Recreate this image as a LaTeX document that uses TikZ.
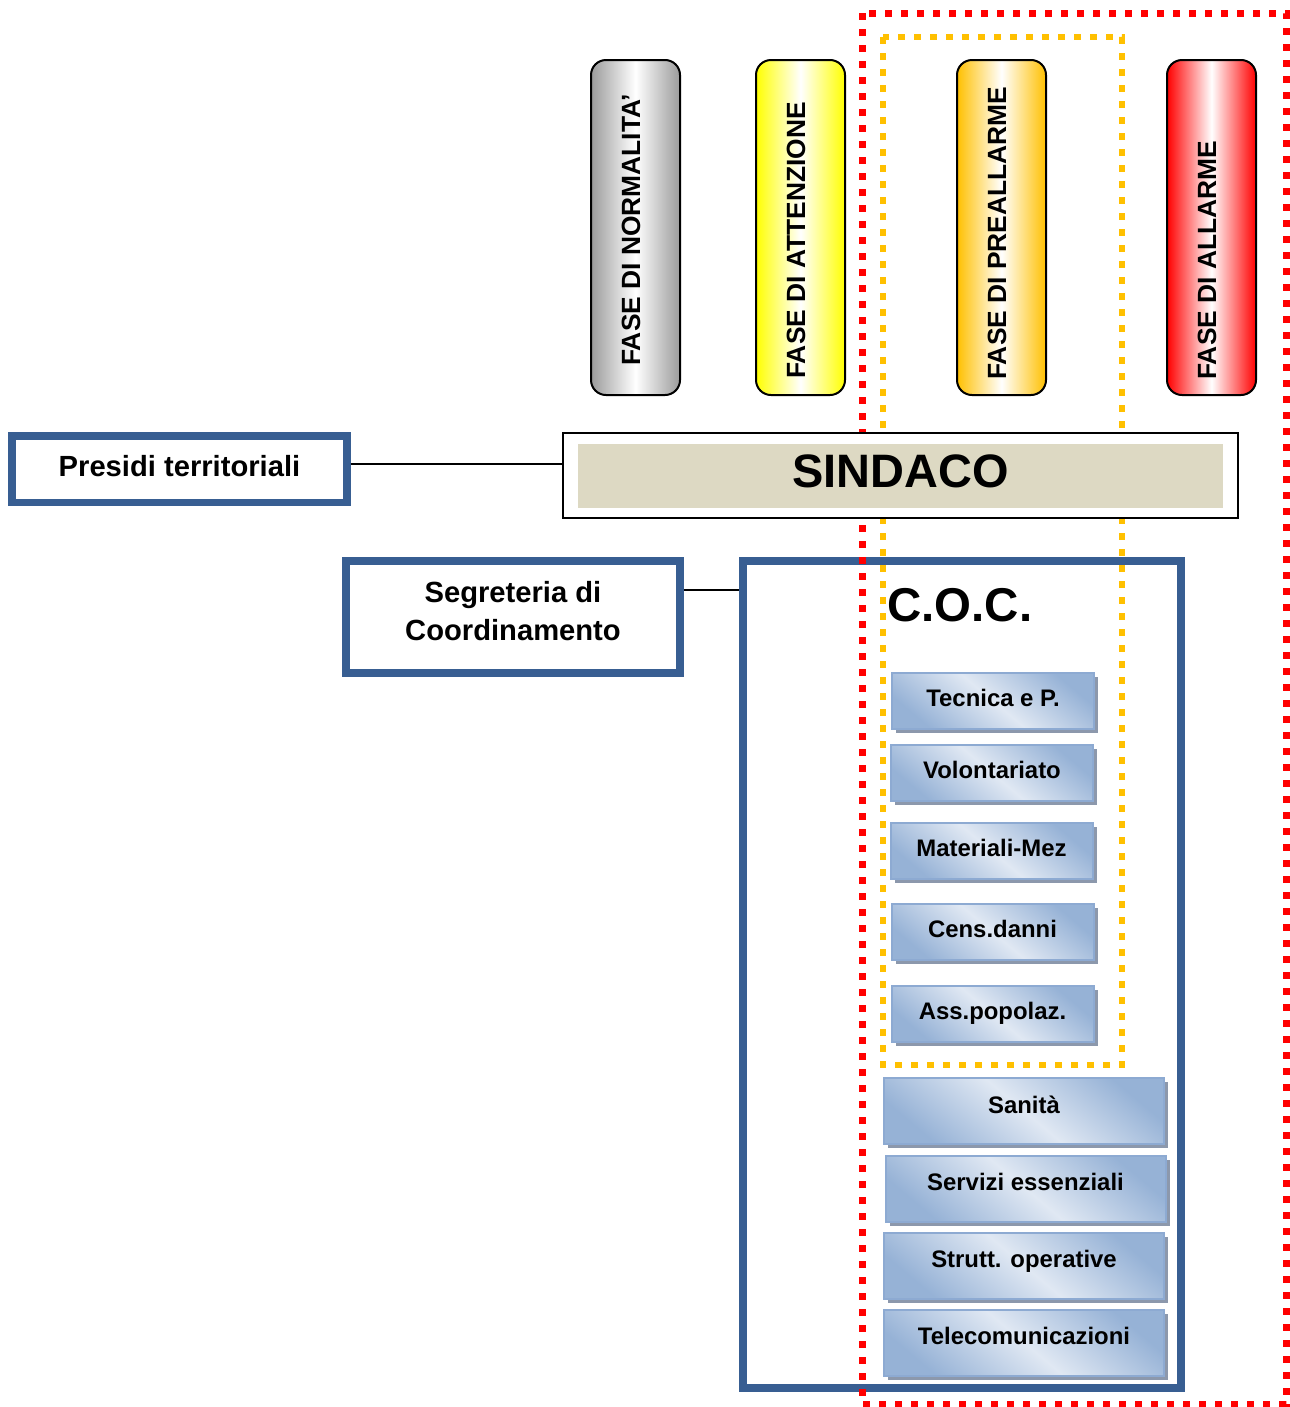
\documentclass[tikz,border=0pt]{standalone}
\usepackage{fontspec}
\setmainfont{Liberation Sans}
\usepackage{tikz}
\usetikzlibrary{calc,positioning,shadows}
\definecolor{bordoblu}{RGB}{56,94,146}
\definecolor{sabbia}{RGB}{221,217,195}
\definecolor{arancio}{RGB}{255,192,0}
\definecolor{grigiofase}{RGB}{155,155,155}
\definecolor{azzchiaro}{RGB}{224,232,243}
\definecolor{azzscuro}{RGB}{150,178,214}
\definecolor{azzbordo}{RGB}{141,170,210}
\definecolor{ombra}{RGB}{140,152,172}
\tikzstyle{fase}    =[rectangle, rounded corners=3mm, draw=black,
                      line width=0.4mm, minimum width=17.8mm,
                      minimum height=67mm, inner sep=0pt]
\tikzstyle{fasetxt} =[rotate=90, anchor=base west, inner sep=0pt,
                      font=\bfseries\fontsize{15}{18}\selectfont]
\tikzstyle{bluebox} =[rectangle, draw=bordoblu, line width=1.5mm,
                      fill=white, align=center,
                      font=\bfseries\fontsize{16.6}{21.6}\selectfont]
\tikzstyle{voce}    =[rectangle, draw=azzbordo, line width=0.4mm,
                      top color=azzscuro, bottom color=azzscuro,
                      middle color=azzchiaro, shading angle=-40,
                      drop shadow={shadow xshift=0.8mm, shadow yshift=-0.8mm,
                                   fill=ombra, opacity=1},
                      font=\bfseries\fontsize{13.6}{16}\selectfont,
                      text height=9.7pt]
\tikzstyle{zona}    =[line width=1.4mm, dash pattern=on 1.4mm off 1.8mm]
\tikzstyle{link}    =[line width=0.3mm, black]
\begin{document}
\begin{tikzpicture}[x=0.2mm, y=-0.2mm]
    \useasboundingbox (0,0) rectangle (1290,1407);
    % C.O.C.
    \node (coc) [bluebox, minimum width=87.6mm, minimum height=165.4mm]
        at (962,974.5) {};
    % fasi attive
    \draw[zona, red] (862,13) rectangle (1286,1404);
    \draw[zona, arancio, line width=1.2mm] (883,37) rectangle (1122,1065);
    % sindaco
    \node (sindaco) [draw=black, line width=0.4mm, fill=white,
        minimum width=135mm, minimum height=17mm] at (900.5,475.5) {};
    \node (sindtxt) [fill=sabbia, minimum width=128.8mm, minimum height=12.8mm,
        font=\bfseries\fontsize{26.7}{32}\selectfont,
        text height=19.1pt, text depth=5.7pt] at (sindaco.center) {SINDACO};
    % fasi
    \node (normalita)  [fase, left color=grigiofase, right color=grigiofase,
        middle color=white] at (635.5,227.5) {};
    \node (attenzione) [fase, left color=yellow, right color=yellow,
        middle color=white] at (800.5,227.5) {};
    \node (preallarme) [fase, left color=arancio, right color=arancio,
        middle color=white] at (1001.5,227.5) {};
    \node (allarme)    [fase, left color=red, right color=red,
        middle color=white] at (1211.5,227.5) {};
    \node (tnormalita)  [fasetxt] at (640,366) {FASE DI NORMALITA’};
    \node (tattenzione) [fasetxt] at (805,379) {FASE DI ATTENZIONE};
    \node (tpreallarme) [fasetxt] at (1006,380) {FASE DI PREALLARME};
    \node (tallarme)    [fasetxt] at (1216,380) {FASE DI ALLARME};
    % presidi e segreteria
    \node (presidi) [bluebox, minimum width=67mm, minimum height=13.3mm,
        text depth=3.4pt] at (179.5,469) {Presidi territoriali};
    \node (segreteria) [bluebox, minimum width=66.8mm, minimum height=22.4mm,
        text depth=6.8pt] at (513,617) {Segreteria di\\Coordinamento};
    \node (coctxt) [anchor=base west, inner sep=0pt,
        font=\bfseries\fontsize{27}{32}\selectfont] at (887,621) {C.O.C.};
    % funzioni
    \node (tecnica)   [voce, minimum width=40.4mm, minimum height=11.2mm,
        text depth=3.4pt] at (993,701) {Tecnica e P.};
    \node (volont)    [voce, minimum width=40.4mm, minimum height=11.2mm,
        text depth=3.4pt] at (992,773) {Volontariato};
    \node (materiali) [voce, minimum width=40.4mm, minimum height=11.2mm,
        text depth=3.4pt] at (991.5,851) {Materiali-Mez};
    \node (cens)      [voce, minimum width=40.4mm, minimum height=11.2mm,
        text depth=3.4pt] at (992.5,932) {Cens.danni};
    \node (ass)       [voce, minimum width=40.4mm, minimum height=11.2mm,
        text depth=3.4pt] at (992.5,1014) {Ass.popolaz.};
    \node (sanita)    [voce, minimum width=56mm, minimum height=13.2mm,
        text depth=7.4pt] at (1024,1111) {Sanità};
    \node (servizi)   [voce, minimum width=56mm, minimum height=13.2mm,
        text depth=7.4pt] at (1025.5,1188.5) {Servizi essenziali};
    \node (strutt)    [voce, minimum width=56mm, minimum height=13.2mm,
        text depth=7.4pt] at (1024,1265.5) {Strutt. operative};
    \node (telecom)   [voce, minimum width=56mm, minimum height=13.2mm,
        text depth=7.4pt] at (1024,1342.5) {Telecomunicazioni};
    % collegamenti
    \draw[link] ([yshift=1mm]presidi.east) -- ([yshift=1mm]presidi.east -| sindaco.west);
    \draw[link] ([yshift=5.4mm]segreteria.east) -- ([yshift=5.4mm]segreteria.east -| coc.west);
\end{tikzpicture}
\end{document}
